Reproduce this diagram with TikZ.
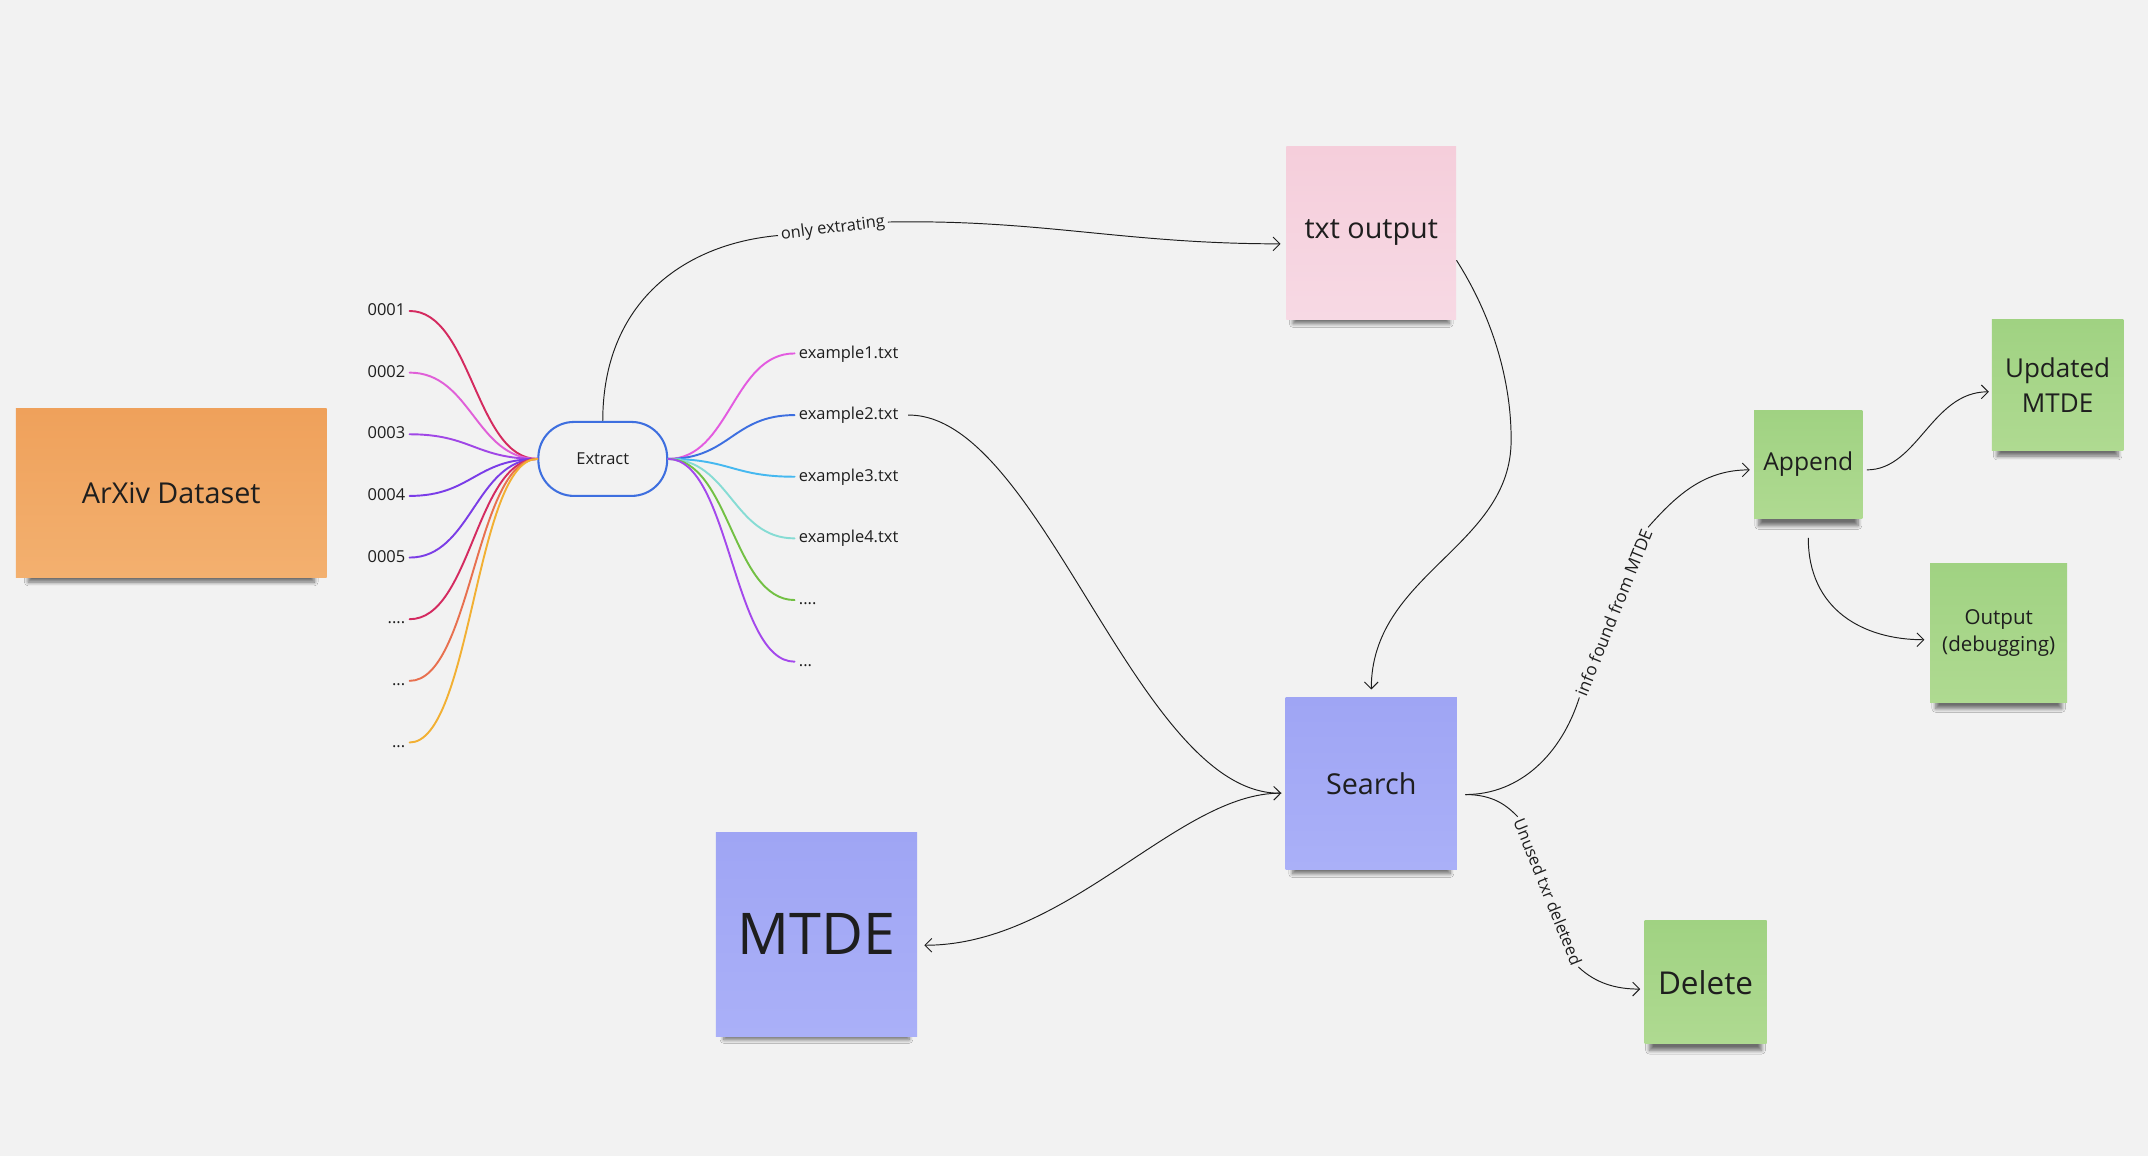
\documentclass[tikz,border=0pt]{standalone}
\usepackage{fontspec}
\setmainfont{Open Sans}
\usetikzlibrary{arrows.meta, shadows.blur, positioning}

\definecolor{bg}{HTML}{F2F2F2}
\definecolor{ink}{HTML}{1E1E1E}
\definecolor{orangetop}{HTML}{EFA15B}
\definecolor{orangebot}{HTML}{F3B06F}
\definecolor{pinktop}{HTML}{F5CEDB}
\definecolor{pinkbot}{HTML}{F7D9E4}
\definecolor{bluetop}{HTML}{9FA5F4}
\definecolor{bluebot}{HTML}{AAB0F8}
\definecolor{greentop}{HTML}{A0D282}
\definecolor{greenbot}{HTML}{AFDA91}
\definecolor{extblue}{HTML}{3E6FDF}
% branch colours
\definecolor{in1}{HTML}{D42A5F}
\definecolor{in2}{HTML}{E05FD8}
\definecolor{in3}{HTML}{A046E6}
\definecolor{in4}{HTML}{7A3CE8}
\definecolor{in5}{HTML}{7B3DE6}
\definecolor{in6}{HTML}{D42A60}
\definecolor{in7}{HTML}{E8704F}
\definecolor{in8}{HTML}{F2B033}
\definecolor{out1}{HTML}{E35BE0}
\definecolor{out2}{HTML}{3D6FE0}
\definecolor{out3}{HTML}{45B8F0}
\definecolor{out4}{HTML}{86DCD4}
\definecolor{out5}{HTML}{72C043}
\definecolor{out6}{HTML}{A448EC}

\newcommand\fs[2]{\fontsize{#1}{#2}\selectfont}
\newcommand\fourdots{....}
\newcommand\threedots{...}

\tikzset{
    sticky/.style={rectangle, inner sep=4pt, align=center, text=ink,
        blur shadow={shadow xshift=0pt, shadow yshift=-9pt, shadow scale=.92,
            shadow blur radius=3pt, shadow blur steps=8, shadow opacity=55}},
    orangenote/.style={sticky, top color=orangetop, bottom color=orangebot},
    pinknote/.style={sticky, top color=pinktop, bottom color=pinkbot},
    bluenote/.style={sticky, top color=bluetop, bottom color=bluebot},
    greennote/.style={sticky, top color=greentop, bottom color=greenbot},
    leaf/.style={inner sep=3pt, text height=1.5ex, text depth=.25ex, text=ink, font=\fs{12}{14}},
    branch/.style={line width=1.4pt, line cap=round},
    link/.style={line width=.7pt, ink},
    arr/.style={link, -{Straight Barb[length=5pt,width=10pt]}},
    lbl/.style={inner sep=2pt, text=ink, font=\fs{12}{14}}
}

\begin{document}
\begin{tikzpicture}[x=1pt, y=-1pt]
    \useasboundingbox (0,0) rectangle (1568,844);
    \fill[bg] (0,0) rectangle (1568,844);

    % sticky notes
    \node[orangenote, minimum width=227pt, minimum height=123pt, font=\fs{21}{25}] (arxiv) at (125,360) {ArXiv Dataset};
    \node[pinknote, minimum width=124pt, minimum height=126pt, font=\fs{21}{25}] (txt) at (1001,170) {txt output};
    \node[bluenote, minimum width=125pt, minimum height=125pt, font=\fs{21}{25}] (search) at (1001,572) {Search};
    \node[bluenote, minimum width=147pt, minimum height=149pt, font=\fs{42}{48}] (mtde) at (596,682) {MTDE};
    \node[greennote, minimum width=79pt, minimum height=79pt, font=\fs{18}{22}] (append) at (1320,339) {Append};
    \node[greennote, minimum width=96pt, minimum height=95pt, font=\fs{19}{26}] (upd) at (1502,281) {Updated\\MTDE};
    \node[greennote, minimum width=100pt, minimum height=102pt, font=\fs{15}{20}] (outp) at (1459,462) {Output\\(debugging)};
    \node[greennote, minimum width=89pt, minimum height=90pt, font=\fs{23}{27}] (delete) at (1245,717) {Delete};

    % mind map
    \node[draw=extblue, line width=1.5pt, rounded corners=26pt, minimum width=94pt, minimum height=54pt,
        text=ink, font=\fs{12}{14}] (ext) at (440,335) {Extract};

    \foreach \t/\c [count=\i] in {0001/in1, 0002/in2, 0003/in3, 0004/in4, 0005/in5,
            \fourdots/in6, \threedots/in7, \threedots/in8} {
        \node[leaf, anchor=east] (src\i) at (299,182+45*\i) {\t};
        \draw[branch, \c] (src\i.east) .. controls +(45,0) and +(-45,0) .. (ext.west);
    }

    \foreach \t/\c [count=\i] in {example1.txt/out1, example2.txt/out2, example3.txt/out3,
            example4.txt/out4, \fourdots/out5, \threedots/out6} {
        \node[leaf, anchor=west] (dst\i) at (580,213+45*\i) {\t};
        \draw[branch, \c] (ext.east) .. controls +(45,0) and +(-45,0) .. (dst\i.west);
    }

    % connectors
    \node[lbl, rotate=7] (only) at (608,167) {only extrating};
    \draw[link] (ext.north) .. controls (440,220) and (500,178) .. (only.west);
    \draw[arr] (only.east) .. controls (760,160) and (820,178) .. ([xshift=-4pt,yshift=-8pt]txt.west);

    \draw[arr] ([xshift=4pt]dst2.east) .. controls (760,302) and (830,580) .. ([xshift=-3pt,yshift=-7pt]search.west);

    \coordinate (bend) at (1103,325);
    \draw[arr] ([yshift=-20pt]txt.east) .. controls (1095,240) and (1104,290) .. (bend)
        .. controls (1100,400) and (1001,420) .. ([yshift=6pt]search.north);

    \draw[arr] ([xshift=-3pt,yshift=-7pt]search.west) .. controls (860,578) and (780,690) .. ([xshift=5pt,yshift=-8pt]mtde.east);

    \node[lbl, rotate=68, font=\fs{12.5}{14}] (info) at (1178,447) {info found from MTDE};
    \draw[link] ([xshift=6pt,yshift=-8pt]search.east) .. controls (1110,580) and (1140,550) .. (info.west);
    \draw[arr] (info.east) .. controls (1225,360) and (1245,343) .. ([xshift=-3pt,yshift=-4pt]append.west);

    \node[lbl, rotate=-68] (unused) at (1130,651) {Unused txr deleteed};
    \draw[link] ([xshift=6pt,yshift=-8pt]search.east) .. controls (1090,580) and (1100,588) .. (unused.west);
    \draw[arr] (unused.east) .. controls (1165,718) and (1180,722) .. ([xshift=-3pt,yshift=-5pt]delete.west);

    \draw[arr] ([xshift=3pt,yshift=-4pt]append.east) .. controls (1400,343) and (1410,286) .. ([xshift=-2pt,yshift=-5pt]upd.west);
    \draw[arr] ([yshift=-14pt]append.south) .. controls (1320,445) and (1360,467) .. ([xshift=-4pt,yshift=-5pt]outp.west);
\end{tikzpicture}
\end{document}
